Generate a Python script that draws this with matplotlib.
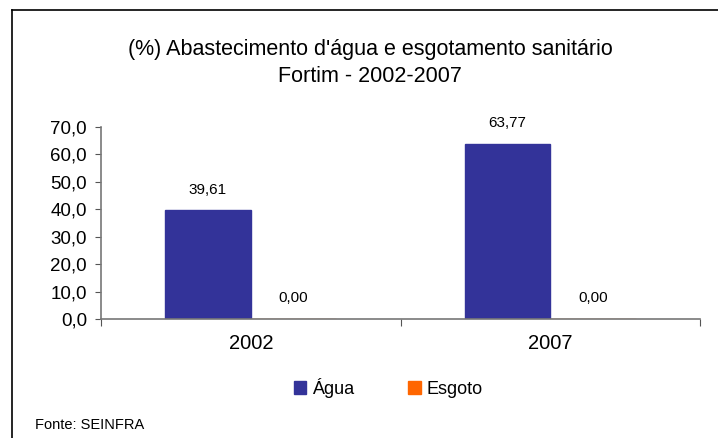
import matplotlib
matplotlib.use('Agg')
import matplotlib.pyplot as plt
import numpy as np
from matplotlib.lines import Line2D
from matplotlib.patches import Patch

plt.rcParams['font.family'] = ['Liberation Sans', 'DejaVu Sans']

years = ['2002', '2007']
agua = [39.61, 63.77]
esgoto = [0.00, 0.00]
series_names = ['Água', 'Esgoto']
yticks = [0, 10, 20, 30, 40, 50, 60, 70]

BLUE = '#333399'
ORANGE = '#FF6600'

fig = plt.figure(figsize=(7.18, 4.38), dpi=100)
W, H = 718, 438
ax = fig.add_axes([101 / W, 1 - 319 / H, 599 / W, 192 / H])

x = np.arange(len(years))
bw = 0.2857
ax.bar(x - bw / 2, agua, bw, color=BLUE, edgecolor=BLUE)
ax.bar(x + bw / 2, esgoto, bw, color=ORANGE, edgecolor=ORANGE)

for xi, v in zip(x, agua):
    ax.text(xi - bw / 2, v + 5, f'{v:.2f}'.replace('.', ','), ha='center', va='bottom', fontsize=11)
for xi, v in zip(x, esgoto):
    ax.text(xi + bw / 2, v + 5, f'{v:.2f}'.replace('.', ','), ha='center', va='bottom', fontsize=11)

ax.set_xlim(-0.5, len(years) - 0.5)
ax.set_ylim(0, 70)
ax.set_yticks(yticks)
ax.set_yticklabels([f'{t:.1f}'.replace('.', ',') for t in yticks], fontsize=13.5)
ax.set_xticks([-0.5, 0.5, 1.5], minor=False)
ax.set_xticklabels([])
ax.set_xticks(x, minor=True)
ax.set_xticklabels(years, minor=True, fontsize=14.5)
ax.tick_params(axis='x', which='minor', length=0, pad=11)
ax.tick_params(axis='x', which='major', length=5, color='#555555', direction='out')
ax.tick_params(axis='y', length=4, color='#555555', direction='out', pad=6)
for s in ['top', 'right']:
    ax.spines[s].set_visible(False)
for s in ['left', 'bottom']:
    ax.spines[s].set_color('#777777')
    ax.spines[s].set_linewidth(1.2)

fig.text(370 / W, 1 - 49 / H, "(%) Abastecimento d'água e esgotamento sanitário",
         ha='center', va='center', fontsize=15.5)
fig.text(370 / W, 1 - 77 / H, 'Fortim - 2002-2007', ha='center', va='center', fontsize=15.5)

handles = [Patch(facecolor=BLUE, edgecolor=BLUE), Patch(facecolor=ORANGE, edgecolor=ORANGE)]
fig.legend(handles, series_names, loc='center', bbox_to_anchor=(388 / W, 1 - 388 / H),
           ncol=2, frameon=False, fontsize=13, handlelength=0.7, handleheight=0.7,
           handletextpad=0.3, columnspacing=3.0)

fig.text(35 / W, 1 - 425 / H, 'Fonte: SEINFRA', ha='left', va='center', fontsize=10.5)

fig.add_artist(Line2D([12 / W, 1], [1 - 10 / H, 1 - 10 / H], transform=fig.transFigure,
                      color='black', lw=1.2))
fig.add_artist(Line2D([12 / W, 12 / W], [0, 1 - 10 / H], transform=fig.transFigure,
                      color='black', lw=1.2))

fig.savefig('out.png', dpi=100)
